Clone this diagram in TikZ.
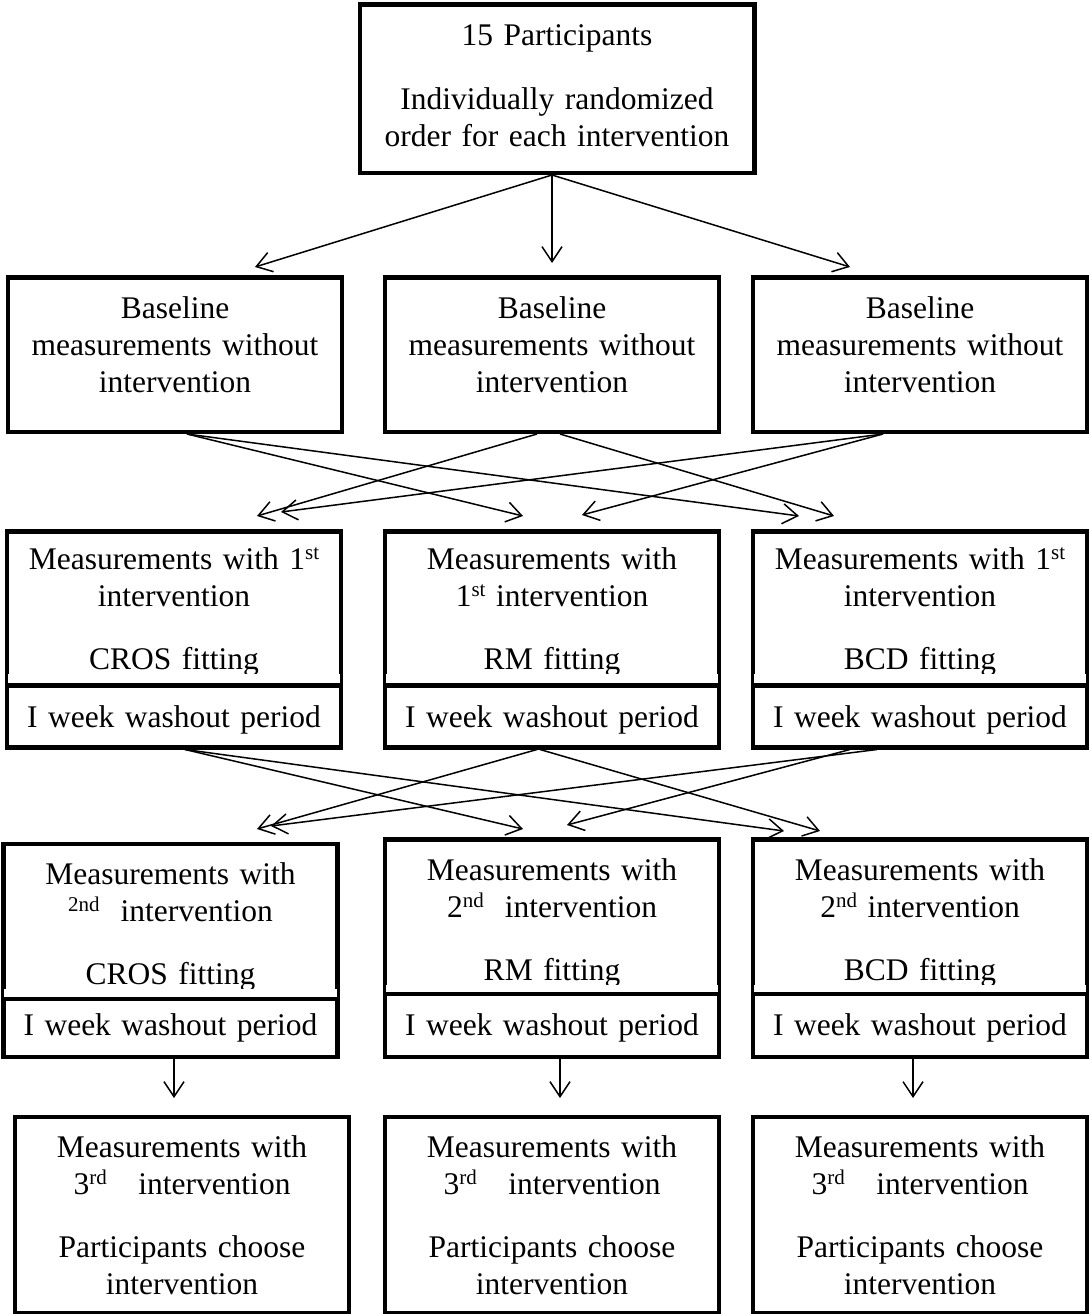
\documentclass[tikz,border=0pt]{standalone}
\usepackage{fontspec}
\setmainfont{Liberation Serif}
\usetikzlibrary{arrows.meta,calc}
\newcommand{\ordsup}[1]{\raisebox{10pt}{\fontsize{21}{21}\selectfont #1}}

\begin{document}
\begin{tikzpicture}[
  x=1pt, y=-1pt,
  font={\fontsize{31.5}{37}\selectfont},
  bx/.style 2 args={draw,line width=4.5pt,anchor=north,inner sep=0pt,
                    text width=334pt,align=center,text height=#1,text depth=#2},
  wsh/.style 2 args={bx={#1}{#2},fill=white},
  k/.style={-{Straight Barb[length=15pt,width=20pt]},line width=1.5pt},
]
\useasboundingbox (0,0) rectangle (1089,1314);

\node[bx={40.8pt}{127.2pt},text width=394.5pt] (par) at (557,2.5)
  {15 Participants\\[27pt]Individually randomized\\order for each intervention};

\node[bx={41pt}{113.5pt}] (bl1) at (175,275) {Baseline\\measurements without\\intervention};
\node[bx={41pt}{113.5pt}] (bl2) at (552,275) {Baseline\\measurements without\\intervention};
\node[bx={41pt}{113.5pt}] (bl3) at (920,275) {Baseline\\measurements without\\intervention};

\node[bx={38pt}{116pt}] (fi1) at (174,529) {Measurements with 1\ordsup{st}\\intervention\\[26pt]CROS fitting};
\node[bx={38pt}{116pt}] (fi2) at (552,529) {Measurements with\\1\ordsup{st} intervention\\[26pt]RM fitting};
\node[bx={38pt}{116pt}] (fi3) at (920,529) {Measurements with 1\ordsup{st}\\intervention\\[26pt]BCD fitting};

\node[bx={41pt}{114pt}] (se1) at (170.5,841.5) {Measurements with\\\ordsup{2nd}\ \ intervention\\[26pt]CROS fitting};
\node[bx={41pt}{113.7pt}] (se2) at (552,837) {Measurements with\\2\ordsup{nd}\ \ intervention\\[26pt]RM fitting};
\node[bx={41pt}{113.7pt}] (se3) at (920,837) {Measurements with\\2\ordsup{nd} intervention\\[26pt]BCD fitting};

\foreach \n/\h in {fi1/14,fi2/14,fi3/14,se1/12,se2/11.7,se3/11.7}
  \fill[white] ($(\n.south west)+(2.9,-2.3)$) rectangle ($(\n.south east)+(-2.9,-\h)$);

\node[wsh={42pt}{20pt}] (wa1) at (174,683) {I week washout period};
\node[wsh={42pt}{20pt}] (wa2) at (552,683) {I week washout period};
\node[wsh={42pt}{20pt}] (wa3) at (920,683) {I week washout period};

\node[wsh={36.5pt}{21.5pt}] (wb1) at (170.5,996.5) {I week washout period};
\node[wsh={41.3pt}{21.5pt}] (wb2) at (552,991.7) {I week washout period};
\node[wsh={41.3pt}{21.5pt}] (wb3) at (920,991.7) {I week washout period};

\node[bx={40.5pt}{155.5pt}] (th1) at (182,1114.5) {Measurements with\\3\ordsup{rd}\ \ \ intervention\\[26pt]Participants choose\\intervention};
\node[bx={40.5pt}{155.5pt}] (th2) at (552,1114.5) {Measurements with\\3\ordsup{rd}\ \ \ intervention\\[26pt]Participants choose\\intervention};
\node[bx={40.5pt}{155.5pt}] (th3) at (920,1114.5) {Measurements with\\3\ordsup{rd}\ \ \ intervention\\[26pt]Participants choose\\intervention};

\draw[k] ($(par.south)+(-5,0)$) -- ($(bl1.north)+(80,-8)$);
\draw[k] ($(par.south)+(-5,0)$) -- ($(bl2.north)+(0,-12)$);
\draw[k] ($(par.south)+(-5,0)$) -- ($(bl3.north)+(-70,-8)$);

\draw[k] ($(bl1.south)+(12,0)$) -- ($(fi2.north)+(-29,-13)$);
\draw[k] ($(bl1.south)+(12,0)$) -- ($(fi3.north)+(-121,-13)$);
\draw[k] ($(bl2.south)+(-15,0)$) -- ($(fi1.north)+(83,-13)$);
\draw[k] ($(bl2.south)+(8,0)$) -- ($(fi3.north)+(-86,-13)$);
\draw[k] ($(bl3.south)+(-37,0)$) -- ($(fi1.north)+(107,-17)$);
\draw[k] ($(bl3.south)+(-37,0)$) -- ($(fi2.north)+(30,-14)$);

\draw[k] ($(wa1.south)+(11,0)$) -- ($(se2.north)+(-29,-8)$);
\draw[k] ($(wa1.south)+(11,0)$) -- ($(se3.north)+(-136,-6)$);
\draw[k] ($(wa2.south)+(-15,0)$) -- ($(se1.north)+(86.5,-12.5)$);
\draw[k] ($(wa2.south)+(-12,0)$) -- ($(se3.north)+(-100,-6)$);
\draw[k] ($(wa3.south)+(-43,0)$) -- ($(se1.north)+(100.5,-15.5)$);
\draw[k] ($(wa3.south)+(-70,0)$) -- ($(se2.north)+(15,-12)$);

\draw[k] ($(wb1.south)+(3.5,0)$) -- ($(th1.north)+(-8,-16.5)$);
\draw[k] ($(wb2.south)+(8,0)$) -- ($(th2.north)+(8,-16.5)$);
\draw[k] ($(wb3.south)+(-7,0)$) -- ($(th3.north)+(-7,-16.5)$);
\end{tikzpicture}
\end{document}
